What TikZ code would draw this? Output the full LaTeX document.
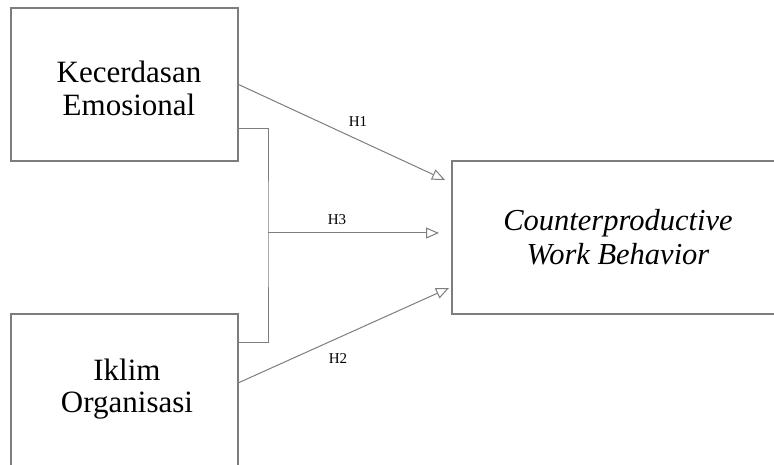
\documentclass[tikz,border=0pt]{standalone}
\usepackage{fontspec}
\setmainfont{Liberation Serif}
\usetikzlibrary{arrows.meta,calc}
\definecolor{linegray}{RGB}{125,125,125}
\begin{document}
\begin{tikzpicture}[x=1pt,y=-1pt,
  box/.style={draw=linegray,line width=1.1pt,rectangle,inner sep=0pt},
  conn/.style={draw=linegray,line width=1pt},
  arr/.style={conn,-{Triangle[open,length=13pt,width=11pt,line width=1pt]}},
  big/.style={font=\fontsize{31}{33}\selectfont,align=center,inner sep=0pt},
  hlab/.style={font=\fontsize{15}{17}\selectfont,inner sep=0pt}]
\useasboundingbox (0,0) rectangle (774,465);
\clip (0,0) rectangle (774,465);
% boxes
\node[box,minimum width=227pt,minimum height=153pt] (ke) at (124.5,84.5) {};
\node[big] (keT) at (129,88.5) {Kecerdasan\\Emosional};
\node[box,minimum width=227pt,minimum height=161pt] (io) at (124.5,394.5) {};
\node[big,font=\fontsize{31}{32}\selectfont] (ioT) at (127,389) {Iklim\\Organisasi};
\node[box,minimum width=332pt,minimum height=153pt,
      font=\fontsize{30.5}{34}\selectfont\itshape,align=center] (cwb) at (618,237.5)
      {Counterproductive\\Work Behavior};
% connector points
\coordinate (h1end) at (445,180);
\coordinate (h2start) at (238,383);
\coordinate (h2end) at (449,288);
\coordinate (b1) at (238,129);
\coordinate (b2) at (238,342);
\coordinate (bj) at (268,233);
\coordinate (h3end) at (439,233);
% connectors
\draw[arr] (ke.east) -- (h1end);
\draw[arr] (h2start) -- (h2end);
\draw[conn] (b1) -| (bj) |- (b2);
\draw[arr] (bj) -- (h3end);
% labels
\node[hlab] (l1) at (358,122) {H1};
\node[hlab] (l3) at (337,220) {H3};
\node[hlab] (l2) at (338,359) {H2};
\end{tikzpicture}
\end{document}
